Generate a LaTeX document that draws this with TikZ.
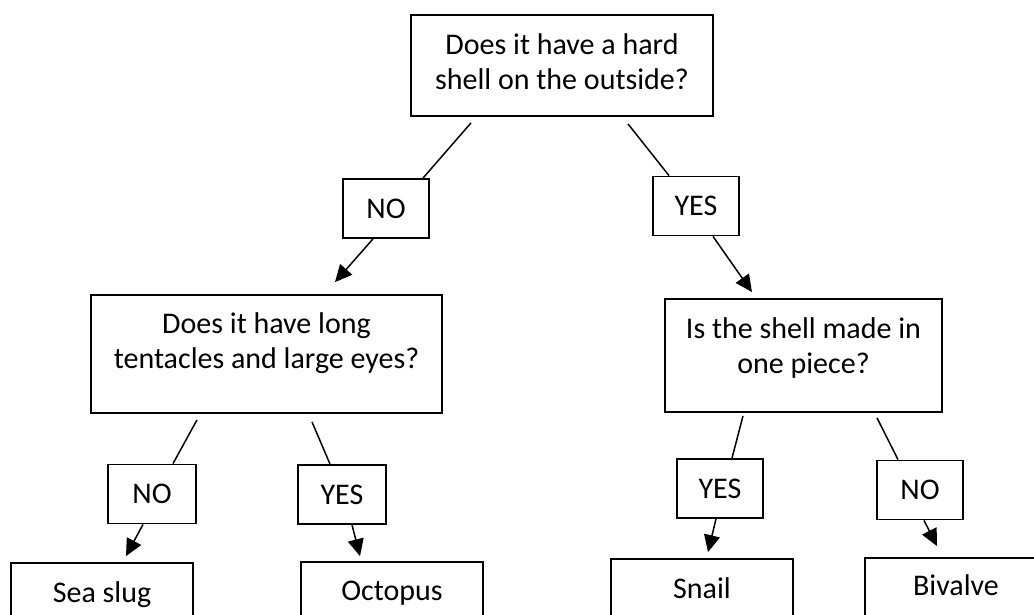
\documentclass[tikz,border=0pt]{standalone}
\usepackage{fontspec}
\setmainfont{Carlito}
\usetikzlibrary{arrows.meta,calc}
\begin{document}
\begin{tikzpicture}[x=1pt,y=-1pt,
  box/.style={draw, line width=1.8pt, inner sep=0pt},
  big/.style={font=\fontsize{30}{35}\selectfont},
  lbl/.style={box, big, minimum width=86pt, minimum height=59pt},
  qbox/.style={box},
  qtxt/.style={big, align=center, inner sep=0pt},
  leaf/.style={box, big, minimum width=182pt, text height=24.5pt, text depth=10.5pt},
  conn/.style={line width=1.5pt},
  arr/.style={conn, -{Triangle[length=17pt,width=16pt]}}]
\useasboundingbox (0,0) rectangle (1034,615);
\clip (0,0) rectangle (1034,615);
% question boxes
\node[qbox, minimum width=302pt, minimum height=101pt] (q1) at (562,65.5) {};
\node[qtxt] (t1) at (q1.center) {\strut Does it have a hard\\\strut shell on the outside?};
\node[qbox, minimum width=351pt, minimum height=118pt] (q2) at (266.5,354) {};
\node[qtxt] (t2) at ([yshift=10pt]q2.center) {\strut Does it have long\\\strut tentacles and large eyes?};
\node[qbox, minimum width=277pt, minimum height=113pt] (q3) at (803.5,355.5) {};
\node[qtxt] (t3) at ([yshift=7pt]q3.center) {\strut Is the shell made in\\\strut one piece?};
% answer labels
\node[lbl] (no1) at (386,208.5) {NO};
\node[lbl] (yes1) at (696,206) {YES};
\node[lbl, minimum width=88pt] (no2) at (152,494) {NO};
\node[lbl, minimum width=88pt] (yes2) at (342,494.5) {YES};
\node[lbl] (yes3) at (720,488.5) {YES};
\node[lbl] (no3) at (920,490) {NO};
% leaves
\node[leaf, minimum height=64pt] (slug) at (102,595) {Sea slug};
\node[leaf, minimum height=62pt] (octo) at (392,593) {Octopus};
\node[leaf, minimum height=64pt] (snail) at (702,591) {Snail};
\node[leaf, minimum height=60pt] (biv) at (956,588) {Bivalve};
% connectors
\draw[conn] ([xshift=-91pt,yshift=-6pt]q1.south) -- ([xshift=37pt]no1.north);
\draw[arr] ([xshift=-13pt]no1.south) -- ([xshift=68.5pt,yshift=12pt]q2.north);
\draw[conn] ([xshift=66pt,yshift=-7pt]q1.south) -- ([xshift=-27pt]yes1.north);
\draw[arr] ([xshift=17pt]yes1.south) -- ([xshift=-51.5pt,yshift=6pt]q3.north);
\draw[conn] ([xshift=-69.5pt,yshift=-6pt]q2.south) -- ([xshift=21pt]no2.north);
\draw[arr] ([xshift=-9pt]no2.south) -- ([xshift=24pt,yshift=6pt]slug.north);
\draw[conn] ([xshift=45.5pt,yshift=-8pt]q2.south) -- ([xshift=-12pt]yes2.north);
\draw[arr] ([xshift=10pt]yes2.south) -- ([xshift=-32pt,yshift=5pt]octo.north);
\draw[conn] ([xshift=-60.5pt,yshift=-3pt]q3.south) -- ([xshift=12pt]yes3.north);
\draw[arr] ([xshift=-4pt]yes3.south) -- ([xshift=6pt,yshift=6pt]snail.north);
\draw[conn] ([xshift=73.5pt,yshift=-5pt]q3.south) -- ([xshift=-22pt]no3.north);
\draw[arr] ([xshift=4pt]no3.south) -- ([xshift=-19pt,yshift=11pt]biv.north);
\end{tikzpicture}
\end{document}
